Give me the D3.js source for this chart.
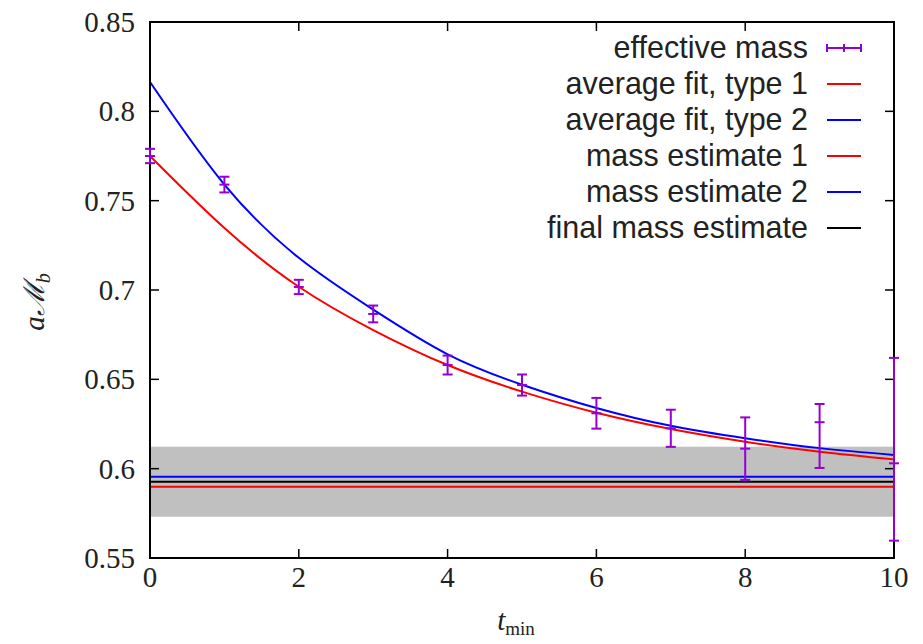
<!DOCTYPE html>
<html>
<head>
<meta charset="utf-8">
<script src="https://cdn.jsdelivr.net/npm/d3@7"></script>
<style>
  body { margin: 0; background: #fff; }
  svg { display: block; }
  .tick-label { font-family: "Liberation Serif", "DejaVu Serif", serif; font-size: 29px; fill: #222; }
  .key-label { font-family: "Liberation Sans", Arial, sans-serif; font-size: 30.5px; fill: #222; }
</style>
</head>
<body>
<div id="chart"></div>
<script>
// effective mass points (t_min, value, error down / error up)
var tValues = [0, 1, 2, 3, 4, 5, 6, 7, 8, 9, 10];
var effMass = [0.775, 0.759, 0.7017, 0.6866, 0.658, 0.6468, 0.631, 0.6226, 0.6112, 0.626, 0.603];
var errDown = [0.004, 0.0044, 0.004, 0.0047, 0.0053, 0.0059, 0.0086, 0.0104, 0.0175, 0.0256, 0.0433];
var errUp   = [0.004, 0.0044, 0.004, 0.0047, 0.0053, 0.0059, 0.0086, 0.0104, 0.0175, 0.0102, 0.059];

// average fits at each t_min
var fitType1 = [0.775, 0.7347, 0.7018, 0.6776, 0.658, 0.6431, 0.6313, 0.6222, 0.6151, 0.6095, 0.6052];
var fitType2 = [0.8164, 0.759, 0.718, 0.689, 0.664, 0.647, 0.634, 0.624, 0.617, 0.6115, 0.6077];

// horizontal estimates
var massEstimate1 = 0.5899;
var massEstimate2 = 0.5955;
var finalEstimate = 0.5927;
var finalBand = [0.5731, 0.6123];

var xTicks = [0, 2, 4, 6, 8, 10];
var yTicks = [0.55, 0.6, 0.65, 0.7, 0.75, 0.8, 0.85];

var keyLabels = ["effective mass", "average fit, type 1", "average fit, type 2",
                 "mass estimate 1", "mass estimate 2", "final mass estimate"];
var keyColors = ["#9400d3", "#ff0000", "#0000ff", "#ff0000", "#0000ff", "#000000"];

var width = 923, height = 644;
var margin = {left: 150, right: 29, top: 22, bottom: 86};

var svg = d3.select("#chart").append("svg")
    .attr("width", width).attr("height", height);

var x = d3.scaleLinear().domain([0, 10]).range([margin.left, width - margin.right]);
var y = d3.scaleLinear().domain([0.55, 0.85]).range([height - margin.bottom, margin.top]);

// grey band for the final estimate
svg.append("rect")
    .attr("x", x(0)).attr("width", x(10) - x(0))
    .attr("y", y(finalBand[1])).attr("height", y(finalBand[0]) - y(finalBand[1]))
    .attr("fill", "#c0c0c0");

function hline(v, color) {
    svg.append("line")
        .attr("x1", x(0)).attr("x2", x(10))
        .attr("y1", y(v)).attr("y2", y(v))
        .attr("stroke", color).attr("stroke-width", 2);
}
hline(massEstimate1, "#ff0000");
hline(massEstimate2, "#0000ff");
hline(finalEstimate, "#000000");

// fit curves
var fitLine = d3.line()
    .x(function(d, i) { return x(tValues[i]); })
    .y(function(d) { return y(d); })
    .curve(d3.curveNatural);

svg.append("path").datum(fitType1)
    .attr("d", fitLine).attr("fill", "none")
    .attr("stroke", "#ff0000").attr("stroke-width", 2);
svg.append("path").datum(fitType2)
    .attr("d", fitLine).attr("fill", "none")
    .attr("stroke", "#0000ff").attr("stroke-width", 2);

// frame + ticks
var frame = svg.append("g");
frame.append("rect")
    .attr("x", x(0)).attr("y", y(0.85))
    .attr("width", x(10) - x(0)).attr("height", y(0.55) - y(0.85))
    .attr("fill", "none").attr("stroke", "#000").attr("stroke-width", 2);

var tickLen = 9;
xTicks.forEach(function(t) {
    frame.append("line").attr("x1", x(t)).attr("x2", x(t))
        .attr("y1", y(0.55)).attr("y2", y(0.55) - tickLen)
        .attr("stroke", "#000").attr("stroke-width", 1.5);
    frame.append("line").attr("x1", x(t)).attr("x2", x(t))
        .attr("y1", y(0.85)).attr("y2", y(0.85) + tickLen)
        .attr("stroke", "#000").attr("stroke-width", 1.5);
    svg.append("text").attr("class", "tick-label")
        .attr("x", x(t)).attr("y", 587)
        .attr("text-anchor", "middle").text(t);
});
yTicks.forEach(function(v) {
    frame.append("line").attr("x1", x(0)).attr("x2", x(0) + tickLen)
        .attr("y1", y(v)).attr("y2", y(v))
        .attr("stroke", "#000").attr("stroke-width", 1.5);
    frame.append("line").attr("x1", x(10)).attr("x2", x(10) - tickLen)
        .attr("y1", y(v)).attr("y2", y(v))
        .attr("stroke", "#000").attr("stroke-width", 1.5);
    svg.append("text").attr("class", "tick-label")
        .attr("x", 135).attr("y", y(v) + 10)
        .attr("text-anchor", "end").text(String(v));
});

// error bars
var capW = 5;
var bars = svg.append("g").attr("stroke", "#9400d3").attr("stroke-width", 2);
tValues.forEach(function(t, i) {
    var lo = y(effMass[i] - errDown[i]), hi = y(effMass[i] + errUp[i]), cx = x(t);
    bars.append("line").attr("x1", cx).attr("x2", cx).attr("y1", lo).attr("y2", hi);
    bars.append("line").attr("x1", cx - capW).attr("x2", cx + capW).attr("y1", lo).attr("y2", lo);
    bars.append("line").attr("x1", cx - capW).attr("x2", cx + capW).attr("y1", hi).attr("y2", hi);
    bars.append("line").attr("x1", cx - capW).attr("x2", cx + capW)
        .attr("y1", y(effMass[i])).attr("y2", y(effMass[i]));
});

// key
var key = svg.append("g");
keyLabels.forEach(function(lbl, i) {
    var ky = 48 + i * 36;
    key.append("text").attr("class", "key-label")
        .attr("x", 808).attr("y", ky + 10)
        .attr("text-anchor", "end").text(lbl);
    key.append("line").attr("x1", 827).attr("x2", 861)
        .attr("y1", ky).attr("y2", ky)
        .attr("stroke", keyColors[i]).attr("stroke-width", 2);
    if (i == 0) {
        [827, 844, 861].forEach(function(px) {
            key.append("line").attr("x1", px).attr("x2", px)
                .attr("y1", ky - 4).attr("y2", ky + 4)
                .attr("stroke", keyColors[i]).attr("stroke-width", 2);
        });
    }
});

// axis titles
var xl = svg.append("text").attr("class", "tick-label")
    .attr("x", 516).attr("y", 630).attr("text-anchor", "middle");
xl.append("tspan").attr("font-style", "italic").text("t");
xl.append("tspan").attr("font-size", "19px").attr("dy", 5).text("min");

var yl = svg.append("text").attr("class", "tick-label")
    .attr("transform", "translate(44,302) rotate(-90)")
    .attr("text-anchor", "middle");
yl.append("tspan").attr("font-style", "italic").text("a");
yl.append("tspan").attr("font-family", "DejaVu Serif").attr("font-style", "italic").text("\u2133");
yl.append("tspan").attr("font-size", "20px").attr("font-style", "italic").attr("dy", 6).text("b");
</script>
</body>
</html>
